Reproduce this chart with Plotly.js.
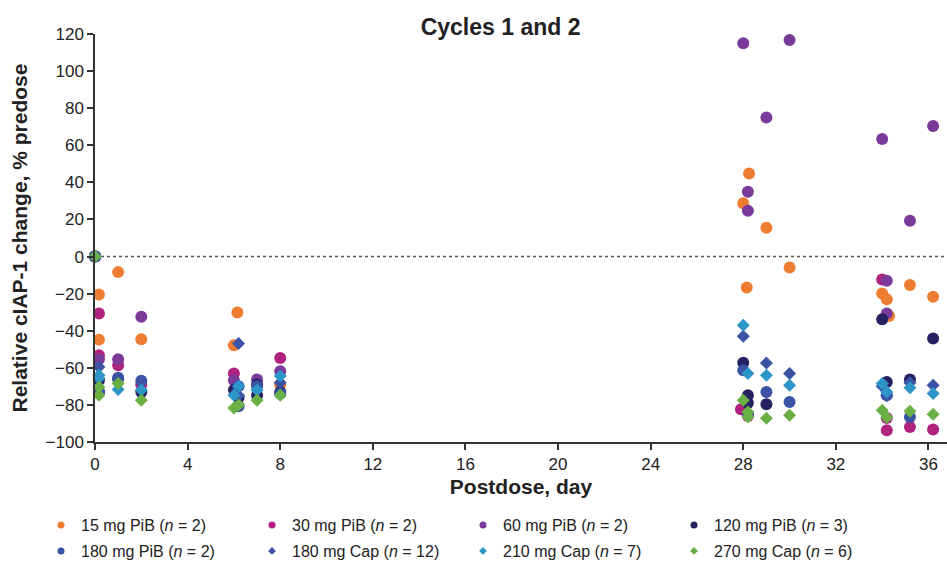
<!DOCTYPE html>
<html>
<head>
<meta charset="utf-8">
<script src="https://cdn.plot.ly/plotly-3.0.1.min.js"></script>
<style>html,body{margin:0;padding:0;background:#fff;}#chart{width:947px;height:563px;}</style>
</head>
<body>
<div id="chart"></div>
<script>
// Series names
const seriesNames = [
  "15 mg PiB (<i>n</i> = 2)", "30 mg PiB (<i>n</i> = 2)", "60 mg PiB (<i>n</i> = 2)", "120 mg PiB (<i>n</i> = 3)",
  "180 mg PiB (<i>n</i> = 2)", "180 mg Cap (<i>n</i> = 12)", "210 mg Cap (<i>n</i> = 7)", "270 mg Cap (<i>n</i> = 6)"
];
// Day values and relative change (% predose) per series
const pib15_x = [0, 0.17, 0.17, 1, 2, 6, 6.15, 8, 28, 28.25, 28.15, 29, 30, 34, 34.2, 34.3, 35.2, 36.2];
const pib15_y = [0, -20.5, -44.8, -8.4, -44.6, -47.8, -30.2, -69, 28.7, 44.8, -16.7, 15.5, -5.9, -19.9, -23, -32, -15.4, -21.7];

const pib30_x = [0, 0.17, 0.17, 1, 2, 6, 8, 27.9, 28.2, 34, 34.2, 34.2, 35.2, 36.2];
const pib30_y = [0, -30.7, -53.2, -58.6, -69, -63, -54.7, -82.4, -86, -12.4, -87, -93.7, -91.9, -93.3];

const pib60_x = [0, 0.17, 1, 2, 6, 7, 8, 28, 28.2, 28.2, 29, 30, 34, 34.2, 34.2, 35.2, 36.2];
const pib60_y = [0, -55.4, -55.4, -32.5, -66.7, -66.3, -61.8, 115, 34.9, 24.7, 75, 116.8, 63.4, -13.1, -30.7, 19.3, 70.4];

const pib120_x = [0, 0.17, 0.17, 1, 2, 6, 6.2, 7, 7, 8, 28, 28.2, 28.2, 29, 34, 34.2, 35.2, 36.2];
const pib120_y = [0, -66.7, -73, -66, -73, -72, -76, -69, -74.8, -73, -57.2, -74.8, -79, -79.6, -33.8, -67.6, -66.3, -44.2];

const pib180_x = [0, 0.17, 1, 2, 6.2, 6.2, 7, 8, 28, 28.2, 29, 30, 34.2, 35.2];
const pib180_y = [0, -73, -65.3, -67, -80.7, -70, -70, -74, -61.3, -85, -73, -78.4, -74.8, -86.5];

const cap180_x = [0, 0.17, 0.17, 6.2, 6.2, 8, 28, 29, 30, 34, 34.2, 35.2, 36.2];
const cap180_y = [0, -59.5, -73, -46.9, -75, -68, -43, -57.4, -63, -70, -75, -68, -69.4];

const cap210_x = [0, 0.17, 0.17, 1, 2, 6, 6.2, 7, 8, 28, 28.2, 29, 30, 34, 34.2, 35.2, 36.2];
const cap210_y = [0, -64, -65.6, -71.7, -72, -74.8, -70, -72, -64.4, -37, -63, -64, -69.4, -68.5, -73, -70.7, -73.9];

const cap270_x = [0, 0.17, 0.17, 1, 2, 6, 6.2, 7, 8, 28, 28.2, 28.2, 29, 30, 34, 34.2, 35.2, 36.2];
const cap270_y = [0, -70.3, -74.8, -68.5, -77.5, -81.6, -80, -77.5, -74.8, -77.5, -83.8, -86.5, -87.2, -85.6, -82.9, -86.8, -83.4, -85];

const xTicks = [0, 4, 8, 12, 16, 20, 24, 28, 32, 36];
const yTicks = [-100, -80, -60, -40, -20, 0, 20, 40, 60, 80, 100, 120];

const colors = ["#EF7D31", "#B0227E", "#7A3A99", "#262262", "#3B53A4", "#3B53A4", "#2E95C9", "#6BB045"];
const symbols = ["circle", "circle", "circle", "circle", "circle", "diamond", "diamond", "diamond"];
const xs = [pib15_x, pib30_x, pib60_x, pib120_x, pib180_x, cap180_x, cap210_x, cap270_x];
const ys = [pib15_y, pib30_y, pib60_y, pib120_y, pib180_y, cap180_y, cap210_y, cap270_y];

const traces = [];
for (let i = 0; i < 8; i++) {
  traces.push({
    type: "scatter", mode: "markers", x: xs[i], y: ys[i], name: seriesNames[i],
    showlegend: false, cliponaxis: false, hoverinfo: "x+y+name",
    marker: {color: colors[i], symbol: symbols[i], size: symbols[i] === "circle" ? 12 : 10, line: {width: 0}}
  });
}
// legend-only entries with small symbols
for (let i = 0; i < 8; i++) {
  traces.push({
    type: "scatter", mode: "markers", x: [null], y: [null], name: seriesNames[i],
    showlegend: true, legend: i < 4 ? "legend" : "legend2", hoverinfo: "skip",
    marker: {color: colors[i], symbol: symbols[i], size: symbols[i] === "circle" ? 7 : 6, line: {width: 0}}
  });
}

const font = "Arial, 'Liberation Sans', sans-serif";
const legendCommon = {
  orientation: "h", xref: "container", yref: "container", xanchor: "left", yanchor: "middle",
  entrywidth: 166, font: {family: font, size: 16, color: "#222"}, bgcolor: "rgba(0,0,0,0)",
  itemclick: false, itemdoubleclick: false, traceorder: "normal"
};

const layout = {
  width: 947, height: 563,
  margin: {l: 95, r: 0, t: 34, b: 121.3, autoexpand: false},
  paper_bgcolor: "#fff", plot_bgcolor: "#fff",
  font: {family: font, color: "#222"},
  title: {text: "<b>Cycles 1 and 2</b>", font: {family: font, size: 23, color: "#222"},
          xref: "paper", x: 0.476, xanchor: "center", yref: "container", y: 0.952, yanchor: "middle"},
  xaxis: {
    range: [0, 36.8], tickvals: xTicks, ticktext: xTicks.map(String),
    showgrid: false, zeroline: false, showline: true, linecolor: "#333", linewidth: 1.5,
    ticks: "outside", ticklen: 6, tickwidth: 1.5, tickcolor: "#333",
    tickfont: {family: font, size: 17, color: "#222"},
    title: {text: "<b>Postdose, day</b>", font: {family: font, size: 21, color: "#222"}, standoff: 6},
    fixedrange: true
  },
  yaxis: {
    range: [-100, 120], tickvals: yTicks,
    showgrid: false, zeroline: false, showline: true, linecolor: "#333", linewidth: 1.5,
    ticks: "outside", ticklen: 6, tickwidth: 1.5, tickcolor: "#333",
    tickfont: {family: font, size: 17, color: "#222"},
    title: {text: "<b>Relative cIAP-1 change, % predose</b>", font: {family: font, size: 21, color: "#222"}, standoff: 12},
    fixedrange: true
  },
  shapes: [{type: "line", xref: "paper", x0: 0, x1: 1, yref: "y", y0: 0, y1: 0,
            line: {color: "#555", width: 1.5, dash: "dot"}, layer: "below"}],
  legend: Object.assign({}, legendCommon, {x: 0.0433, y: 0.0675}),
  legend2: Object.assign({}, legendCommon, {x: 0.0433, y: 0.0213}),
  showlegend: true
};

Plotly.newPlot("chart", traces, layout, {displayModeBar: false, staticPlot: false, responsive: false});
</script>
</body>
</html>
